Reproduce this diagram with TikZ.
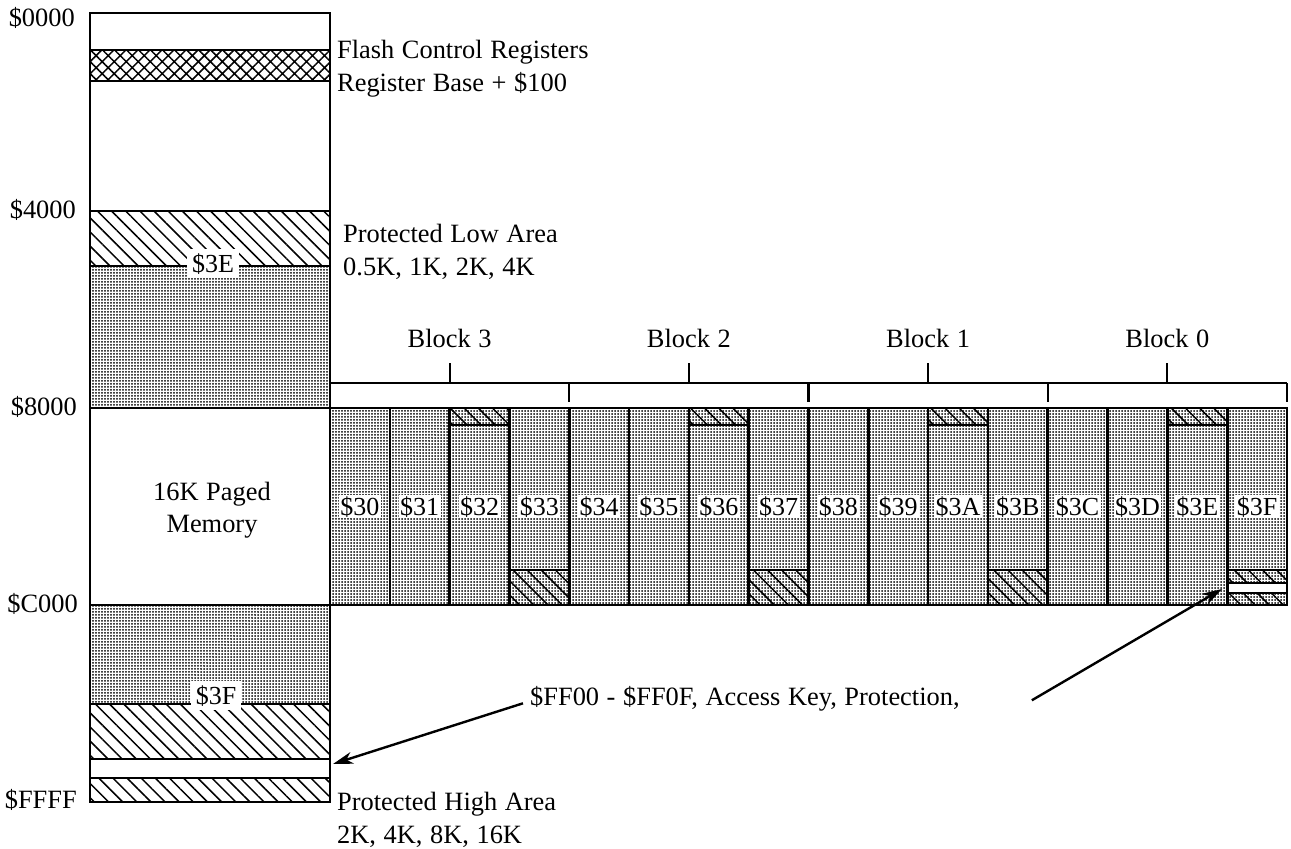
\documentclass[tikz,border=0pt]{standalone}
\usepackage{fontspec}
\setmainfont{Liberation Serif}
\usetikzlibrary{patterns.meta, arrows.meta}
\protected\def\myspacing{\spaceskip=7.6pt\relax}
\begin{document}
\begin{tikzpicture}[x=1pt,y=-1pt,
  box/.style={draw=black, line width=2.6pt},
  dotsfill/.style={pattern={Dots[distance=3pt, radius=1pt]}, pattern color=black},
  hatchfill/.style={pattern={Lines[angle=-45, distance=10pt, line width=1.5pt]}},
  crossfill/.style={pattern={Hatch[angle=45, distance=8.5pt, line width=1.5pt]}},
  txt/.style={font=\fontsize{26.4}{33}\selectfont\myspacing, inner sep=0pt},
  lab/.style={font=\fontsize{26}{33}\selectfont, fill=white, inner sep=1.5pt, anchor=base},
  biglab/.style={lab, inner xsep=5pt, inner ysep=4pt},
  brk/.style={line width=2.2pt},
  arr/.style={line width=2.4pt, -{Stealth[length=20pt, width=12pt, inset=6pt]}}
]
\useasboundingbox (0,0) rectangle (1291,849);
% left column
\draw[box] (90,13) rectangle (330,802);
\draw[box, crossfill] (90,50) rectangle (330,81);
\draw[box, hatchfill] (90,211) rectangle (330,266);
\draw[box, dotsfill] (90,266) rectangle (330,408);
\draw[box] (90,408) rectangle (330,605);
\draw[box, dotsfill] (90,605) rectangle (330,704);
\draw[box, hatchfill] (90,704) rectangle (330,759);
\draw[box] (90,759) rectangle (330,778);
\draw[box, hatchfill] (90,778) rectangle (330,802);
% paged columns
\foreach \lab [count=\i from 0] in {30,31,32,33,34,35,36,37,38,39,3A,3B,3C,3D,3E,3F} {
  \pgfmathsetmacro\xa{330+\i*59.8125}
  \pgfmathsetmacro\xb{330+(\i+1)*59.8125}
  \pgfmathtruncatemacro\m{mod(\i,4)}
  \draw[box, dotsfill] (\xa,408) rectangle (\xb,605);
  \ifnum\m=2 \draw[box,hatchfill] (\xa,408) rectangle (\xb,425); \fi
  \ifnum\m=3 \ifnum\i<15 \draw[box,hatchfill] (\xa,570) rectangle (\xb,605); \fi\fi
  \node[lab] (c\lab) at ({(\xa+\xb)/2},515) {\$\lab};
}
\draw[box, hatchfill] (1227.1875,570) rectangle (1287,583);
\draw[box, fill=white] (1227.1875,583) rectangle (1287,593);
\draw[box, hatchfill] (1227.1875,593) rectangle (1287,605);
% block bracket
\draw[brk] (330,383) -- (1287,383);
\foreach \k/\bn in {0/3,1/2,2/1,3/0} {
  \pgfmathsetmacro\cx{330+(\k+0.5)*239.25}
  \pgfmathsetmacro\ex{330+(\k+1)*239.25}
  \draw[brk] (\cx,383) -- (\cx,363);
  \draw[brk] (\ex,383) -- (\ex,402);
  \node[txt, anchor=base] (blk\bn) at (\cx,347) {Block \bn};
}
% address labels
\node[txt, anchor=base east] (a0) at (75,26) {\$0000};
\node[txt, anchor=base east] (a4) at (76,218) {\$4000};
\node[txt, anchor=base east] (a8) at (77,415) {\$8000};
\node[txt, anchor=base east] (aC) at (78,612) {\$C000};
\node[txt, anchor=base east] (aF) at (77,808) {\$FFFF};
% descriptions
\node[txt, anchor=base west] (fcr1) at (337,58) {Flash Control Registers};
\node[txt, anchor=base west] (fcr2) at (337,91) {Register Base + \$100};
\node[txt, anchor=base west] (pla1) at (343,242) {Protected Low Area};
\node[txt, anchor=base west] (pla2) at (343,275) {0.5K, 1K, 2K, 4K};
\node[txt, anchor=base west] (pha1) at (337,810) {Protected High Area};
\node[txt, anchor=base west] (pha2) at (337,843) {2K, 4K, 8K, 16K};
\node[txt, anchor=base] (pm1) at (212,500) {16K Paged};
\node[txt, anchor=base] (pm2) at (212,532) {Memory};
\node[biglab] (l3E) at (213,272) {\$3E};
\node[biglab] (l3F) at (216,704) {\$3F};
\node[txt, anchor=base west] (key) at (530,705) {\$FF00 - \$FF0F, Access Key, Protection,};
\coordinate (tipL) at (333,764);
\coordinate (tipR) at (1222,589);
\draw[arr] ([xshift=-7pt,yshift=-5pt]key.west) -- (tipL);
\draw[arr] ([xshift=72pt,yshift=-2pt]key.east) -- (tipR);
\end{tikzpicture}
\end{document}
